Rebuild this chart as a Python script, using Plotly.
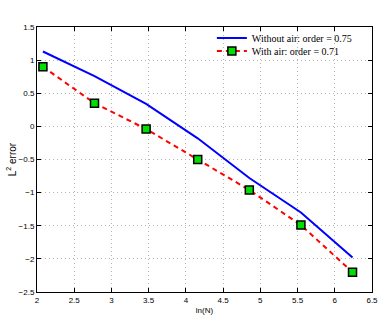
import numpy as np
import plotly.graph_objects as go

N = [8, 16, 32, 64, 128, 256, 512]
ln_n = [float(np.log(n)) for n in N]
without_air = [1.13, 0.76, 0.34, -0.18, -0.78, -1.30, -1.98]
with_air = [0.90, 0.35, -0.04, -0.50, -0.96, -1.49, -2.20]
x_ticks = [2, 2.5, 3, 3.5, 4, 4.5, 5, 5.5, 6, 6.5]
x_tick_labels = ["2", "2.5", "3", "3.5", "4", "4.5", "5", "5.5", "6", "6.5"]
y_ticks = [-2.5, -2, -1.5, -1, -0.5, 0, 0.5, 1, 1.5]
y_tick_labels = ["\u22122.5", "\u22122", "\u22121.5", "\u22121", "\u22120.5", "0", "0.5", "1", "1.5"]

fig = go.Figure()
fig.add_trace(go.Scatter(
    x=ln_n, y=without_air, mode="lines",
    name="Without air: order = 0.75",
    line=dict(color="#0000ff", width=2),
    legend="legend",
))
fig.add_trace(go.Scatter(
    x=ln_n, y=with_air, mode="lines+markers",
    name="With air: order = 0.71",
    line=dict(color="#ff0000", width=2, dash="5px,4px"),
    marker=dict(symbol="square", size=8, color="#00e000",
                line=dict(color="black", width=1.5)),
    legend="legend2",
))

axis_common = dict(
    showline=True, linecolor="black", linewidth=1, mirror="ticks",
    ticks="inside", ticklen=4, tickcolor="black",
    showgrid=True, gridcolor="#b4b4b4", griddash="1px,3px", gridwidth=1,
    zeroline=False, automargin=False,
    tickfont=dict(family="Liberation Sans, Arial", size=8, color="black"),
)

legend_common = dict(
    xanchor="left", yanchor="middle",
    bgcolor="rgba(255,255,255,0)", borderwidth=0,
    font=dict(family="Liberation Serif", size=10, color="black"),
    itemwidth=30,
)

fig.update_layout(
    width=382, height=316,
    margin=dict(l=37, r=10, t=27, b=24),
    paper_bgcolor="white", plot_bgcolor="white",
    xaxis=dict(range=[2, 6.5], tickvals=x_ticks, ticktext=x_tick_labels,
               title=dict(text="ln(N)", font=dict(family="Liberation Sans, Arial", size=8, color="black"),
                          standoff=3),
               **axis_common),
    yaxis=dict(range=[-2.5, 1.5], tickvals=y_ticks, ticktext=y_tick_labels,
               title=dict(text="L<sup>2</sup> error", font=dict(family="Liberation Sans, Arial", size=10, color="black"),
                          standoff=0),
               **axis_common),
    legend=dict(x=0.522, y=0.9585, **legend_common),
    legend2=dict(x=0.522, y=0.9094, **legend_common),
    showlegend=True,
)

fig.write_html("out.html",
               config={"displayModeBar": False},
               post_script="document.body.style.margin='0';document.body.style.padding='0';")
